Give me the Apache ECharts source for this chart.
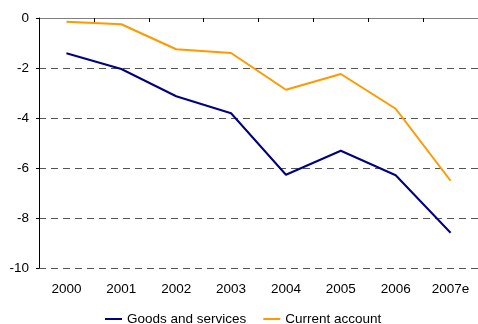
<!DOCTYPE html>
<html>
<head>
<meta charset="utf-8">
<script src="https://cdn.jsdelivr.net/npm/echarts@6/dist/echarts.min.js"></script>
<style>
  html, body { margin: 0; padding: 0; background: #fff; }
  #chart { width: 478px; height: 324px; }
</style>
</head>
<body>
<div id="chart"></div>
<script>
// Balances, % of GDP
const years = ['2000', '2001', '2002', '2003', '2004', '2005', '2006', '2007e'];
const goodsAndServices = [-1.41, -2.04, -3.13, -3.81, -6.27, -5.31, -6.29, -8.59];
const currentAccount = [-0.15, -0.25, -1.25, -1.40, -2.87, -2.24, -3.63, -6.51];
const yTicks = { min: -10, max: 0, interval: 2 };

const font = 'Liberation Sans, Arial, sans-serif';
const chart = echarts.init(document.getElementById('chart'));

chart.setOption({
  animation: false,
  backgroundColor: '#ffffff',
  grid: { left: 39, width: 442, top: 18, height: 250, containLabel: false },
  legend: {
    data: ['Goods and services', 'Current account'],
    top: 307,
    left: 100,
    icon: 'rect',
    itemWidth: 17,
    itemHeight: 2,
    itemGap: 17,
    textStyle: { fontFamily: font, fontSize: 13.5, color: '#000' }
  },
  xAxis: [
    {
      // axis line drawn at zero, across the top of the plot
      type: 'category',
      data: years,
      position: 'top',
      boundaryGap: true,
      axisLine: { show: true, onZero: false, lineStyle: { color: '#808080', width: 1 } },
      axisTick: { show: true, inside: true, interval: 0, length: 4, lineStyle: { color: '#000', width: 1 } },
      axisLabel: { show: false },
      splitLine: { show: false }
    },
    {
      // year labels along the bottom
      type: 'category',
      data: years,
      position: 'bottom',
      boundaryGap: true,
      axisLine: { show: false },
      axisTick: { show: false },
      axisLabel: { fontFamily: font, fontSize: 13.5, color: '#000', margin: 14 },
      splitLine: { show: false }
    }
  ],
  yAxis: {
    type: 'value',
    min: yTicks.min,
    max: yTicks.max,
    interval: yTicks.interval,
    axisLine: { show: true, onZero: false, lineStyle: { color: '#000', width: 1 } },
    axisTick: { show: true, length: 3, lineStyle: { color: '#000', width: 1 } },
    axisLabel: { fontFamily: font, fontSize: 13.5, color: '#000', margin: 10 },
    splitLine: { show: true, lineStyle: { color: '#555', type: [7, 5], width: 1 } }
  },
  series: [
    {
      name: 'Goods and services',
      type: 'line',
      data: goodsAndServices,
      xAxisIndex: 0,
      symbol: 'none',
      lineStyle: { color: '#000080', width: 2 },
      itemStyle: { color: '#000080' }
    },
    {
      name: 'Current account',
      type: 'line',
      data: currentAccount,
      xAxisIndex: 0,
      symbol: 'none',
      lineStyle: { color: '#FF9900', width: 2 },
      itemStyle: { color: '#FF9900' }
    }
  ]
});
</script>
</body>
</html>
